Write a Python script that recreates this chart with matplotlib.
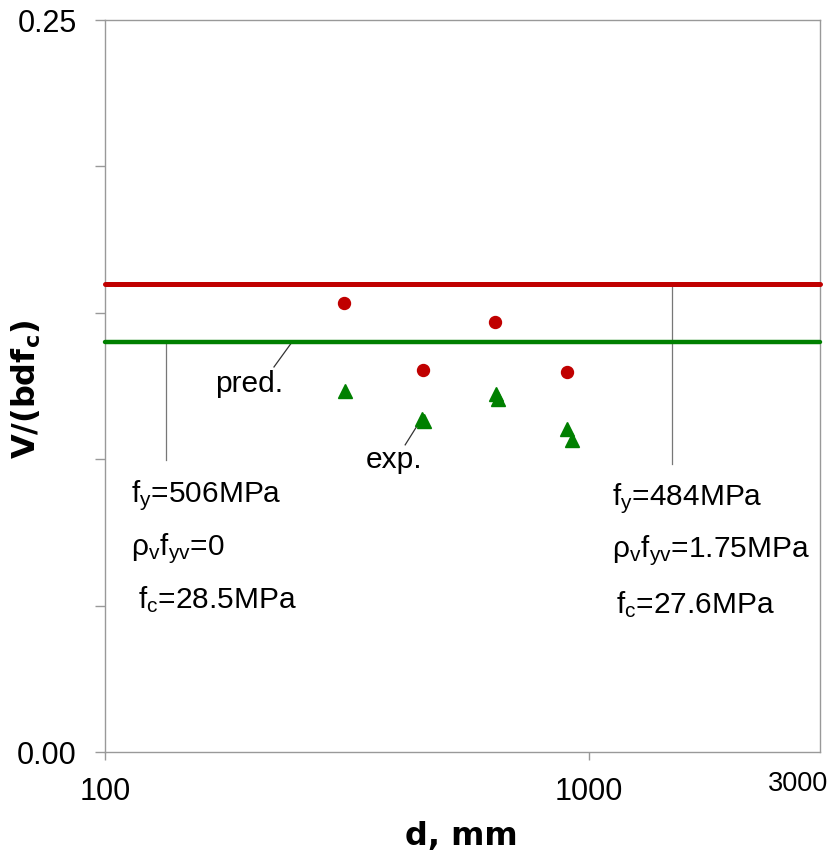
import matplotlib
matplotlib.use('Agg')
import matplotlib.pyplot as plt
from matplotlib.ticker import NullLocator, FixedLocator

plt.rcParams['font.family'] = ['Liberation Sans', 'DejaVu Sans']
plt.rcParams['mathtext.fontset'] = 'custom'
plt.rcParams['mathtext.rm'] = 'Liberation Sans'
plt.rcParams['mathtext.it'] = 'Liberation Sans:italic'
plt.rcParams['mathtext.bf'] = 'Liberation Sans:bold'

# predicted and experimental V/(bdfc) vs. depth d
pred_d = [312, 453, 640, 902]
pred_v = [0.1532, 0.1304, 0.1469, 0.1299]
exp_d = [313, 452, 456, 642, 650, 902, 922]
exp_v = [0.1233, 0.1136, 0.1130, 0.1222, 0.1205, 0.1103, 0.1066]
pred_level = 0.16
exp_level = 0.14

red = '#C00000'
green = '#008000'
frame = '#999999'

fig = plt.figure(figsize=(8.34, 8.52), dpi=100)
ax = fig.add_axes([105/834, 1-752/852, 715/834, 732/852])
ax.set_xscale('log')
ax.set_xlim(100, 3000)
ax.set_ylim(0, 0.25)

ax.axhline(pred_level, color=red, lw=3.6, solid_capstyle='round', zorder=3, clip_on=False)
ax.axhline(exp_level, color=green, lw=3.2, solid_capstyle='round', zorder=3, clip_on=False)

ax.plot(pred_d, pred_v, 'o', color=red, ms=8.6, mec=red, zorder=4)
ax.plot(exp_d, exp_v, '^', color=green, ms=10, mec=green, zorder=4)

# thin leader lines
ax.plot([133.5, 133.5], [exp_level, 0.0997], color='#777777', lw=0.9)
ax.plot([1482, 1482], [pred_level, 0.0984], color='#777777', lw=0.9)
ax.plot([243.4, 223.4], [exp_level, 0.1315], color='#333333', lw=0.9)
ax.plot([441, 417], [0.1113, 0.1049], color='#333333', lw=0.9)

fs = 21.5
ax.text(168.7, 0.1230, 'pred.', fontsize=fs, va='baseline')
ax.text(346, 0.0970, 'exp.', fontsize=fs, va='baseline')

ax.text(113, 0.0854, r'f$_\mathregular{y}$=506MPa', fontsize=fs, va='baseline')
ax.text(113, 0.0673, r'ρ$_\mathregular{v}$f$_\mathregular{yv}$=0', fontsize=fs, va='baseline')
ax.text(117, 0.0492, r'f$_\mathregular{c}$=28.5MPa', fontsize=fs, va='baseline')

ax.text(1115, 0.0844, r'f$_\mathregular{y}$=484MPa', fontsize=fs, va='baseline')
ax.text(1115, 0.0666, r'ρ$_\mathregular{v}$f$_\mathregular{yv}$=1.75MPa', fontsize=fs, va='baseline')
ax.text(1137, 0.0475, r'f$_\mathregular{c}$=27.6MPa', fontsize=fs, va='baseline')

for s in ax.spines.values():
    s.set_color(frame)
    s.set_linewidth(1.0)

ax.xaxis.set_major_locator(FixedLocator([100, 1000]))
ax.xaxis.set_minor_locator(NullLocator())
ax.set_xticklabels(['100', '1000'])
ax.set_yticks([0, 0.05, 0.10, 0.15, 0.20, 0.25])
ax.set_yticklabels(['0.00', '', '', '', '', '0.25'])
ax.tick_params(axis='y', direction='out', length=7.2, width=1, color=frame,
               labelsize=22, pad=13)
ax.tick_params(axis='x', direction='out', length=5.8, width=1, color=frame,
               labelsize=22, pad=12)

ax.annotate('3000', xy=(1, 0), xycoords='axes fraction', xytext=(-16, -14),
            textcoords='offset points', ha='center', va='top', fontsize=19.5)

fig.text(461/834, 1-845/852, 'd, mm', fontsize=23, fontweight='bold',
         family='DejaVu Sans', ha='center', va='baseline')
fig.text(26/834, 1-389/852, r'V/(bdf$_\mathregular{c}$)', fontsize=23,
         fontweight='bold', family='DejaVu Sans', rotation=90,
         ha='center', va='center')

fig.savefig('out.png', dpi=100)
